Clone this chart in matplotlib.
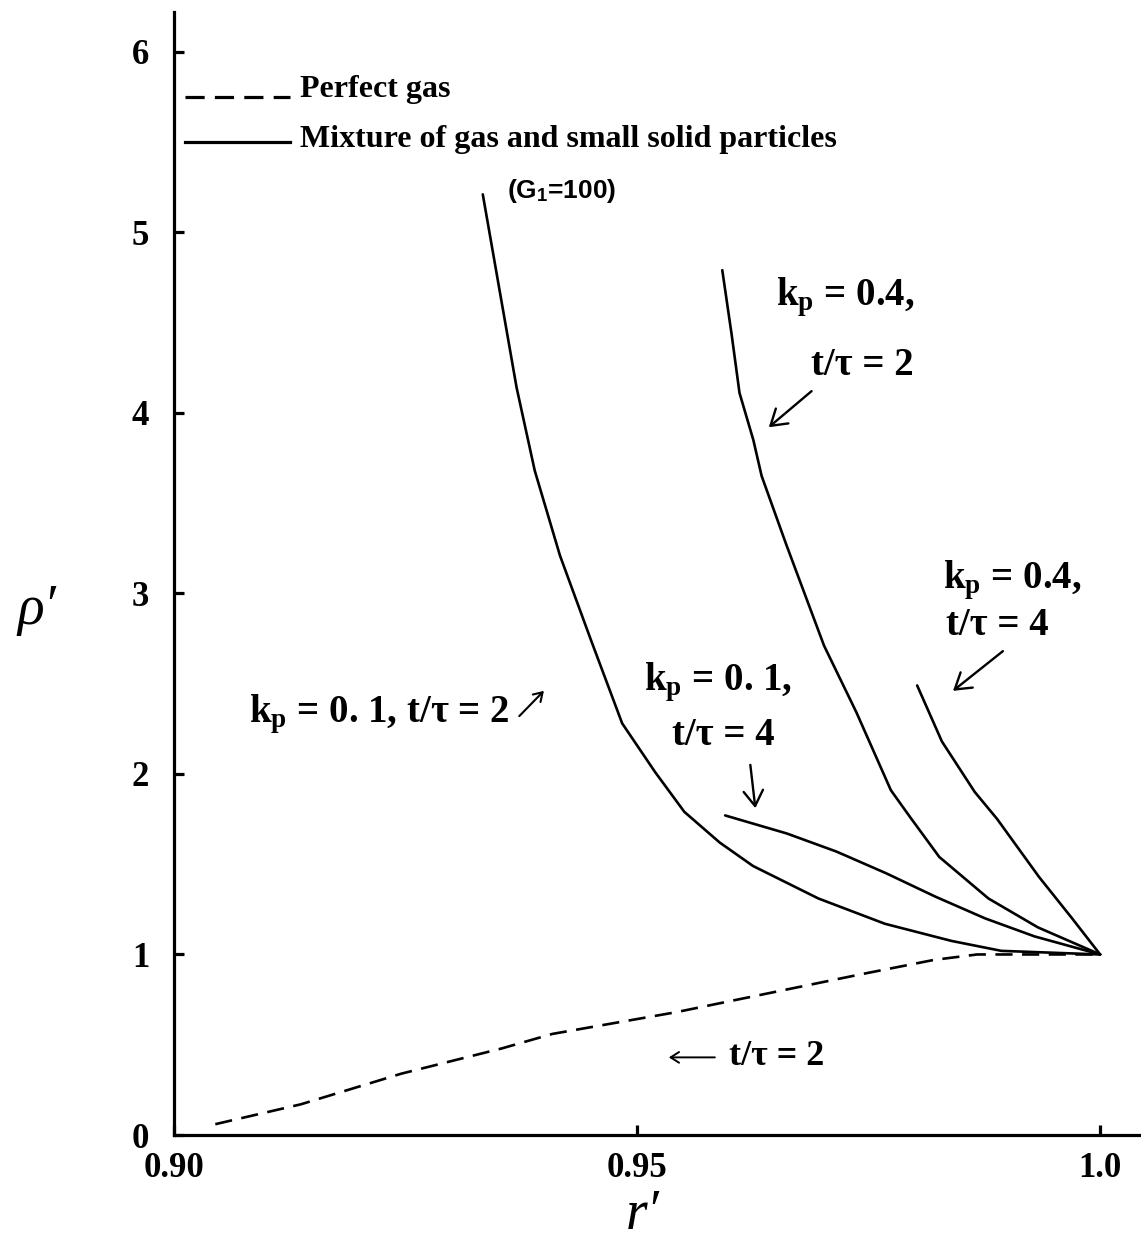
import matplotlib
matplotlib.use("Agg")
import matplotlib.pyplot as plt

# ---------------- data ----------------
perfect_r = [0.90446, 0.91369, 0.92456, 0.93542, 0.94086, 0.95419, 0.97415,
             0.98207, 0.98672, 0.98965, 1.0]
perfect_rho = [0.06, 0.17, 0.34, 0.48, 0.56, 0.68, 0.89, 0.97, 1.0, 1.0, 1.0]

# kp = 0.1, t/tau = 2  (G1 = 100)
a_r = [0.93334, 0.93699, 0.93895, 0.94167, 0.94503, 0.94839, 0.95195, 0.95510,
       0.95892, 0.96252, 0.96958, 0.97676, 0.98395, 0.98933, 1.0]
a_rho = [5.21, 4.14, 3.68, 3.21, 2.74, 2.28, 2.01, 1.79, 1.62, 1.49, 1.31,
         1.17, 1.075, 1.02, 1.0]

# kp = 0.4, t/tau = 2
b_r = [0.9592, 0.96022, 0.96106, 0.96255, 0.96345, 0.96611, 0.97019, 0.97369,
       0.97740, 0.97949, 0.98263, 0.98794, 0.99328, 1.0]
b_rho = [4.79, 4.43, 4.11, 3.85, 3.65, 3.27, 2.71, 2.34, 1.91, 1.76, 1.54,
         1.31, 1.15, 1.0]

# kp = 0.4, t/tau = 4
c_r = [0.98024, 0.98291, 0.98646, 0.98888, 0.99339, 0.99697, 1.0]
c_rho = [2.49, 2.18, 1.90, 1.75, 1.43, 1.20, 1.0]

# kp = 0.1, t/tau = 4
d_r = [0.95951, 0.96617, 0.97152, 0.97688, 0.98222, 0.98757, 0.99292, 1.0]
d_rho = [1.77, 1.67, 1.57, 1.45, 1.32, 1.20, 1.10, 1.0]

xtick_vals = [0.90, 0.95, 1.0]
xtick_labels = ["0.90", "0.95", "1.0"]
ytick_vals = [0, 1, 2, 3, 4, 5, 6]
ytick_labels = ["0", "1", "2", "3", "4", "5", "6"]

# ---------------- style ----------------
SERIF = ["Liberation Serif", "DejaVu Serif"]
plt.rcParams["font.family"] = SERIF
plt.rcParams["font.weight"] = "bold"
plt.rcParams["mathtext.fontset"] = "custom"
plt.rcParams["mathtext.rm"] = "Liberation Serif"
plt.rcParams["mathtext.bf"] = "Liberation Serif:bold"
plt.rcParams["mathtext.it"] = "Liberation Serif:italic"
plt.rcParams["mathtext.sf"] = "Liberation Sans:bold"

fig = plt.figure(figsize=(11.41, 12.47), dpi=100)
ax = fig.add_axes([0.1525, 0.0898, 0.8466, 0.9006])
ax.set_xlim(0.90, 1.0043)
ax.set_ylim(0, 6.22)

for s in ("top", "right"):
    ax.spines[s].set_visible(False)
for s in ("left", "bottom"):
    ax.spines[s].set_linewidth(2.3)

ax.set_xticks(xtick_vals)
ax.set_xticklabels(xtick_labels, fontsize=25, fontweight="bold")
ax.set_yticks(ytick_vals)
ax.set_yticklabels(ytick_labels, fontsize=25, fontweight="bold")
ax.tick_params(axis="both", direction="in", length=7, width=2.3)
ax.tick_params(axis="x", pad=12)
ax.tick_params(axis="y", pad=18)

LW = 1.9
line_kw = dict(color="black", lw=LW, solid_joinstyle="round",
               solid_capstyle="round")
ax.plot(perfect_r, perfect_rho, color="black", lw=LW, linestyle=(0, (6.5, 3.6)))
ax.plot(a_r, a_rho, **line_kw)
ax.plot(b_r, b_rho, **line_kw)
ax.plot(c_r, c_rho, **line_kw)
ax.plot(d_r, d_rho, **line_kw)

# ---------------- legend (hand drawn as in original) ----------------
ax.plot([0.90119, 0.91252], [5.75, 5.75], color="black", lw=2.3,
        linestyle=(0, (6, 3.2)))
ax.text(0.9136, 5.75, "Perfect gas", fontsize=23, fontweight="bold",
        va="baseline", ha="left")
ax.plot([0.90119, 0.91252], [5.50, 5.50], color="black", lw=2.3)
ax.text(0.9136, 5.47, "Mixture of gas and small solid particles", fontsize=23,
        fontweight="bold", va="baseline", ha="left")

# ---------------- annotations ----------------
ax.text(0.9360, 5.23, r"(G$_{\mathsf{1}}$=100)", fontsize=19,
        fontfamily=["Liberation Sans", "DejaVu Sans"], fontweight="bold",
        va="center", ha="left")

ANN = 28


def arrow(tip, start, ms=20, lw=1.7):
    ax.annotate("", xy=tip, xytext=start,
                arrowprops=dict(arrowstyle="->,head_length=0.55,head_width=0.35",
                                lw=lw, color="black", mutation_scale=ms,
                                shrinkA=0, shrinkB=0))


ax.text(0.9650, 4.64, r"$\mathbf{k_p}$ = 0.4,", fontsize=ANN, va="center", ha="left")
ax.text(0.9688, 4.26, "t/τ = 2", fontsize=ANN, va="center", ha="left")
arrow((0.96422, 3.92), (0.96884, 4.12))

ax.text(0.98300, 3.07, r"$\mathbf{k_p}$ = 0.4,", fontsize=ANN, va="center", ha="left")
ax.text(0.98340, 2.82, "t/τ = 4", fontsize=ANN, va="center", ha="left")
arrow((0.98411, 2.46), (0.98950, 2.68))

ax.text(0.95080, 2.51, r"$\mathbf{k_p}$ = 0. 1,", fontsize=ANN, va="center", ha="left")
ax.text(0.95380, 2.21, "t/τ = 4", fontsize=ANN, va="center", ha="left")
arrow((0.96277, 1.81), (0.96223, 2.05))

ax.text(0.9362, 2.33, r"$\mathbf{k_p}$ = 0. 1, t/τ = 2", fontsize=ANN,
        va="center", ha="right")
arrow((0.93994, 2.46), (0.93728, 2.32), ms=11, lw=1.5)

arrow((0.95343, 0.43), (0.95840, 0.43), ms=11, lw=1.4)
ax.text(0.95991, 0.435, "t/τ = 2", fontsize=26, va="center", ha="left")

# ---------------- axis labels ----------------
fig.text(37 / 1141, 1 - 610 / 1247, "ρ′", fontsize=40, fontstyle="italic",
         fontweight="normal", ha="center", va="center")
fig.text(643 / 1141, 1 - 1215 / 1247, "r′", fontsize=40, fontstyle="italic",
         fontweight="normal", ha="center", va="center")

fig.savefig("out.png", dpi=100)
